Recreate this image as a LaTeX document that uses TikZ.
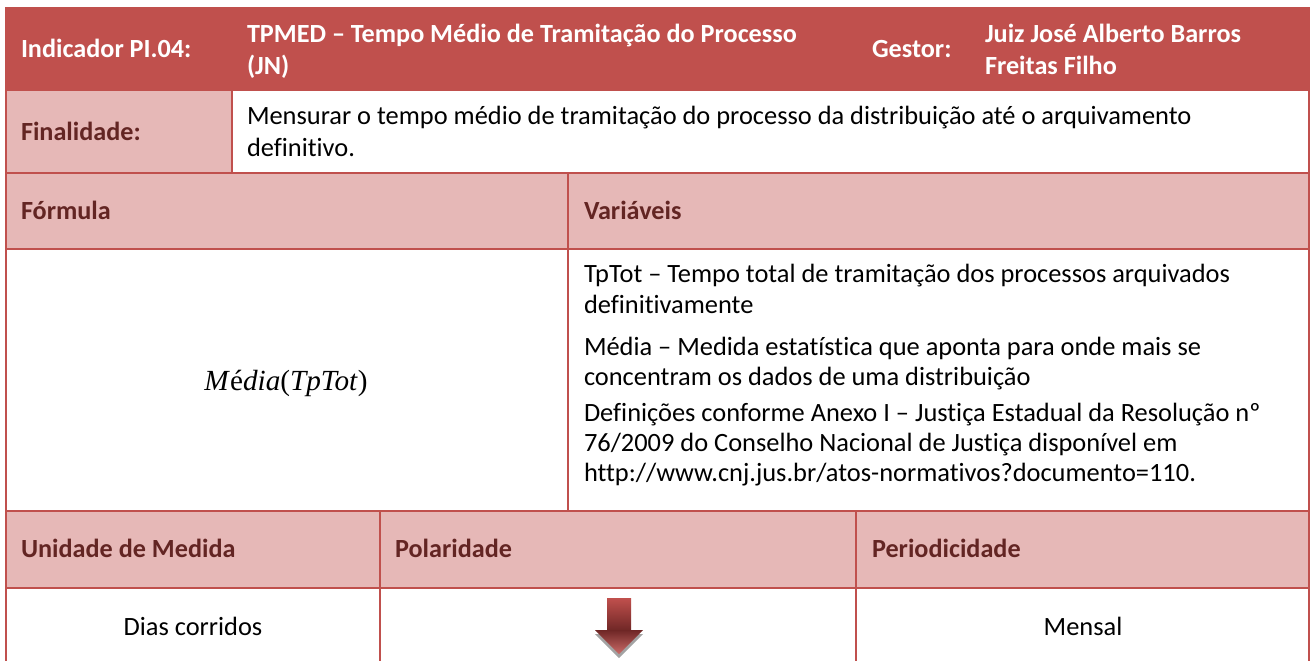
\documentclass[tikz,border=0pt]{standalone}
\usepackage{fontspec}
\setmainfont{Carlito}[Ligatures=NoCommon]
\newfontfamily\mathlike{Liberation Serif}
\definecolor{hdrred}{HTML}{C0504D}
\definecolor{pinkbg}{HTML}{E6B8B7}
\definecolor{darkred}{HTML}{632523}
\definecolor{arrowtop}{HTML}{C0504D}
\definecolor{arrowmid}{HTML}{6E2625}
\definecolor{shadowgray}{HTML}{A3A3A3}
\tikzset{
  txt/.style={inner sep=0pt, outer sep=0pt, anchor=base west, font=\fontsize{13.2}{15}\selectfont},
  hdrtxt/.style={txt, text=white, font=\fontsize{13.1}{15}\selectfont\bfseries},
  pinktxt/.style={txt, text=darkred, font=\fontsize{13.1}{15}\selectfont\bfseries},
  ctrtxt/.style={txt, anchor=base},
  grid/.style={draw=hdrred, line width=1pt},
}
\begin{document}
\begin{tikzpicture}[x=0.5pt, y=-0.5pt]
\useasboundingbox (0,0) rectangle (1312,661);
% fills
\fill[hdrred] (6,7) rectangle (1309,90);
\fill[pinkbg] (6,90) rectangle (232,173);
\fill[pinkbg] (6,173) rectangle (1309,249);
\fill[pinkbg] (6,511) rectangle (1309,588);
% grid lines
\draw[grid] (6,7) -- (6,661);
\draw[grid] (1309,7) -- (1309,661);
\draw[grid] (6,90) -- (1309,90);
\draw[grid] (6,173) -- (1309,173);
\draw[grid] (6,249) -- (1309,249);
\draw[grid] (6,511) -- (1309,511);
\draw[grid] (6,588) -- (1309,588);
\draw[grid] (232,90) -- (232,173);
\draw[grid] (568,173) -- (568,511);
\draw[grid] (380,511) -- (380,661);
\draw[grid] (856,511) -- (856,661);
% header
\node[hdrtxt] (ind) at (21,57) {Indicador PI.04:};
\node[hdrtxt] (tit1) at (247,42) {TPMED – Tempo Médio de Tramitação do Processo};
\node[hdrtxt] (tit2) at (247,74) {(JN)};
\node[hdrtxt] (gest) at (872,57) {Gestor:};
\node[hdrtxt] (juiz1) at (985,42) {Juiz José Alberto Barros};
\node[hdrtxt] (juiz2) at (985,74) {Freitas Filho};
% finalidade
\node[pinktxt] (fin) at (21,140) {Finalidade:};
\node[txt] (fin1) at (247,124) {Mensurar o tempo médio de tramitação do processo da distribuição até o arquivamento};
\node[txt] (fin2) at (247,156) {definitivo.};
% formula / variaveis
\node[pinktxt] (form) at (21,219) {Fórmula};
\node[pinktxt] (vars) at (584,219) {Variáveis};
\node[ctrtxt, font=\fontsize{14.6}{15}\mathlike] (media) at (286,390) {\textit{M}é\textit{dia}(\textit{TpTot})};
\node[txt] (v1) at (584,282) {TpTot – Tempo total de tramitação dos processos arquivados};
\node[txt] (v2) at (584,313) {definitivamente};
\node[txt] (v3) at (584,355) {Média – Medida estatística que aponta para onde mais se};
\node[txt] (v4) at (584,385) {concentram os dados de uma distribuição};
\node[txt] (v5) at (584,421) {Definições conforme Anexo I – Justiça Estadual da Resolução nº};
\node[txt] (v6) at (584,451) {76/2009 do Conselho Nacional de Justiça disponível em};
\node[txt] (v7) at (584,481) {http://www.cnj.jus.br/atos-normativos?documento=110.};
% bottom section
\node[pinktxt] (unid) at (21,557) {Unidade de Medida};
\node[pinktxt] (pol) at (395,557) {Polaridade};
\node[pinktxt] (per) at (872,557) {Periodicidade};
\node[ctrtxt] (dias) at (193,635) {Dias corridos};
\node[ctrtxt] (mens) at (1083,635) {Mensal};
% polarity arrow
\fill[shadowgray] (595,634) -- (643,634) -- (619,658) -- cycle;
\shade[top color=arrowtop, bottom color=arrowmid] (607,598) rectangle (631,631);
\shade[top color=arrowmid, bottom color=arrowtop!85!white] (595,630) -- (643,630) -- (619,654) -- cycle;
\end{tikzpicture}
\end{document}
